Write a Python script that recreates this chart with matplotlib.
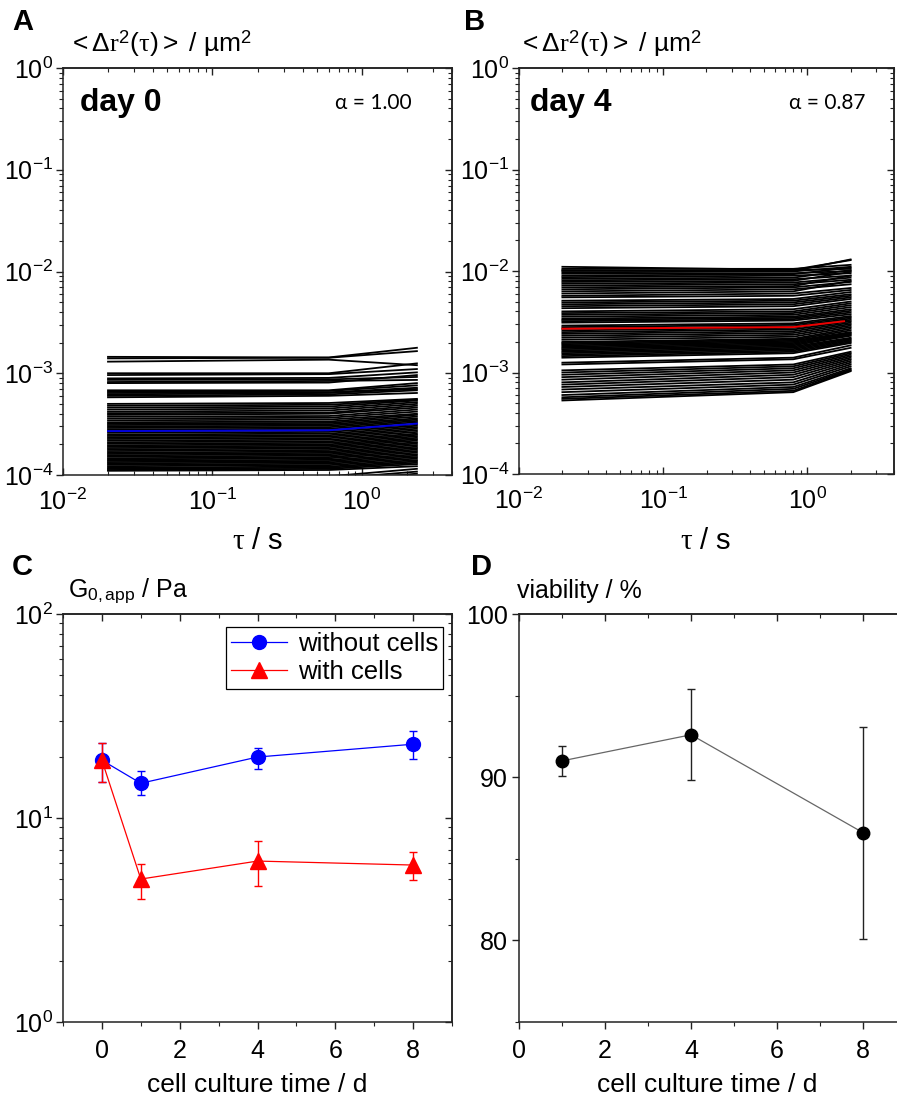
import matplotlib
matplotlib.use("Agg")
import matplotlib.pyplot as plt
from matplotlib.ticker import MultipleLocator, LogLocator

plt.rcParams['font.family'] = ['Liberation Sans', 'DejaVu Sans']
plt.rcParams['mathtext.fontset'] = 'custom'
plt.rcParams['mathtext.rm'] = 'Liberation Sans'
plt.rcParams['mathtext.it'] = 'Liberation Serif'
plt.rcParams['mathtext.bf'] = 'Liberation Sans:bold'
plt.rcParams['axes.unicode_minus'] = False

# ---- panel A: MSD curves, day 0 (values in 1e-4 um^2) ----
tau_day0 = [0.02, 0.6, 2.33]
msd0_start = [14.5, 14.0, 13.0, 10.0, 9.6, 8.9, 8.6, 8.2, 8.0, 6.8, 6.6, 6.4, 6.2, 6.0, 5.8,
              5.0, 4.8, 4.6, 4.4, 4.2, 4.05, 3.9, 3.75, 3.6, 3.45, 3.3, 3.2, 3.1, 3.0, 2.9,
              2.8, 2.7, 2.6, 2.5, 2.42, 2.34, 2.26, 2.18, 2.1, 2.03, 1.96, 1.9, 1.84, 1.78,
              1.72, 1.66, 1.61, 1.56, 1.51, 1.46, 1.42, 1.38, 1.34, 1.3, 1.26, 1.22, 1.18,
              1.15, 1.12, 1.1, 0.95, 0.9, 0.85]
msd0_mid = [14.3, 14.2, 13.6, 10.0, 9.8, 9.0, 8.7, 8.4, 8.1, 6.8, 6.7, 6.5, 6.4, 6.2, 6.0,
            5.1, 4.9, 4.7, 4.5, 4.3, 4.1, 4.0, 3.8, 3.65, 3.5, 3.35, 3.25, 3.15, 3.05, 2.95,
            2.85, 2.75, 2.65, 2.55, 2.46, 2.38, 2.3, 2.22, 2.14, 2.07, 2.0, 1.94, 1.88, 1.82,
            1.76, 1.7, 1.65, 1.6, 1.55, 1.5, 1.46, 1.41, 1.37, 1.33, 1.29, 1.25, 1.21,
            1.18, 1.15, 1.12, 0.97, 0.92, 0.88]
msd0_end = [17.8, 16.5, 12.0, 12.5, 11.0, 10.2, 9.2, 8.6, 9.6, 8.0, 7.6, 7.2, 7.0, 6.8, 6.4,
            5.6, 5.5, 5.4, 5.2, 5.0, 4.8, 4.6, 4.4, 4.2, 4.0, 3.9, 3.75, 3.6, 3.5, 3.4,
            3.3, 3.15, 3.05, 2.95, 2.85, 2.75, 2.65, 2.55, 2.48, 2.4, 2.32, 2.25, 2.18, 2.1,
            2.04, 1.97, 1.9, 1.84, 1.78, 1.72, 1.66, 1.6, 1.55, 1.5, 1.45, 1.4, 1.36,
            1.32, 1.28, 1.22, 1.15, 1.08, 1.03]
mean0 = [2.7, 2.75, 3.2]

# ---- panel B: MSD curves, day 4 (values in 1e-3 um^2) ----
tau_day4 = [0.02, 0.8, 2.0]
msd4_start = [11.0, 10.5, 10.2, 10.0, 9.7, 9.4, 9.0, 8.7, 8.4, 8.1, 7.8, 7.5, 7.2, 6.9, 6.6,
              6.3, 6.0, 5.7, 5.5, 5.1, 4.9, 4.7, 4.5, 4.3, 4.0, 3.85, 3.7, 3.55, 3.4, 3.3,
              3.2, 3.1, 2.9, 2.8, 2.7, 2.6, 2.5, 2.4, 2.3, 2.2, 2.1, 2.0, 1.95, 1.9, 1.85,
              1.8, 1.75, 1.7, 1.65, 1.6, 1.55, 1.5, 1.45, 1.4, 1.25, 1.2, 1.05, 1.0, 0.95,
              0.9, 0.85, 0.8, 0.76, 0.72, 0.68, 0.64, 0.6, 0.57, 0.55, 0.53]
msd4_mid = [10.3, 10.5, 10.0, 10.2, 9.9, 9.5, 9.3, 9.0, 8.6, 8.3, 8.0, 7.7, 7.4, 7.1, 6.9,
            6.6, 6.3, 6.0, 5.7, 5.3, 5.1, 4.9, 4.7, 4.5, 4.2, 4.0, 3.85, 3.7, 3.55, 3.45,
            3.35, 3.25, 3.05, 2.95, 2.85, 2.75, 2.65, 2.55, 2.45, 2.35, 2.25, 2.15, 2.1, 2.05,
            2.0, 1.95, 1.9, 1.85, 1.8, 1.75, 1.7, 1.65, 1.6, 1.55, 1.4, 1.35, 1.2, 1.15,
            1.1, 1.05, 1.0, 0.95, 0.9, 0.85, 0.8, 0.76, 0.72, 0.69, 0.66, 0.64]
msd4_end = [12.8, 11.5, 13.0, 10.5, 11.0, 10.0, 10.8, 9.5, 10.2, 9.0, 9.8, 8.6, 8.2, 9.0, 7.8,
            7.4, 8.0, 6.8, 6.5, 6.2, 5.9, 5.7, 5.5, 5.3, 5.0, 4.8, 4.6, 4.4, 4.2, 4.05,
            3.9, 3.75, 3.6, 3.5, 3.4, 3.3, 3.2, 3.1, 3.0, 2.9, 2.8, 2.7, 2.6, 2.5, 2.45,
            2.4, 2.35, 2.3, 2.2, 2.15, 2.1, 2.05, 2.0, 1.95, 1.85, 1.75, 1.6, 1.55, 1.5,
            1.45, 1.4, 1.35, 1.3, 1.25, 1.2, 1.15, 1.1, 1.07, 1.05, 1.03]
tau_mean4 = [0.02, 0.8, 1.8]
mean4 = [2.7, 2.8, 3.2]

# ---- panel C: apparent modulus ----
days_c = [0, 1, 4, 8]
g_without = [19.2, 14.8, 19.9, 23.0]
g_without_lo = [4.2, 1.8, 2.5, 3.5]
g_without_hi = [4.1, 2.2, 2.1, 3.7]
g_with = [19.2, 5.02, 6.15, 5.88]
g_with_lo = [4.2, 1.02, 1.51, 0.91]
g_with_hi = [4.1, 0.93, 1.55, 0.92]

# ---- panel D: viability ----
days_d = [1, 4, 8]
viability = [91.0, 92.6, 86.6]
viability_err = [0.9, 2.8, 6.5]

W, H = 897, 1100
TICK_FS = 18


def rect(l, r, t, b):
    return [l / W, 1 - b / H, (r - l) / W, (b - t) / H]


fig = plt.figure(figsize=(W / 100, H / 100), dpi=100)

spine_col = '#222222'


def style_axes(ax, xdir, ydir, right=True):
    for s in ax.spines.values():
        s.set_linewidth(1.1)
        s.set_color(spine_col)
    ax.spines['right'].set_visible(right)
    ax.tick_params(axis='x', which='both', direction=xdir, labelsize=TICK_FS, color=spine_col, pad=5)
    ax.tick_params(axis='y', which='both', direction=ydir, labelsize=TICK_FS, color=spine_col, pad=2)
    ax.tick_params(which='major', length=5, width=1)
    ax.tick_params(which='minor', length=3, width=0.8)
    top = ax.secondary_xaxis('top')
    top.tick_params(which='both', direction='in', labeltop=False, color=spine_col)
    top.tick_params(which='major', length=5, width=1)
    top.tick_params(which='minor', length=3, width=0.8)
    top.spines['top'].set_linewidth(1.1)
    top.spines['top'].set_color(spine_col)
    sec = [top]
    if right:
        rgt = ax.secondary_yaxis('right')
        rgt.tick_params(which='both', direction='in', labelright=False, color=spine_col)
        rgt.tick_params(which='major', length=5, width=1)
        rgt.tick_params(which='minor', length=3, width=0.8)
        rgt.spines['right'].set_linewidth(1.1)
        rgt.spines['right'].set_color(spine_col)
        sec.append(rgt)
    return sec


def msd_panel(ax, tau, starts, mids, ends, unit, mean_tau, mean_vals, mean_col, lw):
    for s, m, e in zip(starts, mids, ends):
        ax.plot(tau, [s * unit, m * unit, e * unit], color='black', lw=lw)
    ax.plot(mean_tau, [v * unit for v in mean_vals], color=mean_col, lw=1.4)
    ax.set_xscale('log')
    ax.set_yscale('log')
    ax.set_xlim(0.01, 4)
    ax.set_ylim(1e-4, 1)
    ax.xaxis.set_major_locator(LogLocator(base=10, numticks=10))
    ax.yaxis.set_major_locator(LogLocator(base=10, numticks=10))
    sec = style_axes(ax, 'in', 'out')
    sec[0].set_xticklabels([])
    sec[1].set_yticklabels([])
    ax.tick_params(axis='x', pad=10)


# panel A
axA = fig.add_axes(rect(63, 452, 68, 475))
msd_panel(axA, tau_day0, msd0_start, msd0_mid, msd0_end, 1e-4, tau_day0, mean0, '#0000dd', 1.3)
axA.text(0.044, 0.915, 'day 0', transform=axA.transAxes, fontsize=23, fontweight='bold',
         va='center', ha='left')
axA.text(0.70, 0.915, 'α = 1.00', transform=axA.transAxes, fontsize=15,
         family=['Lato', 'DejaVu Sans'], color='black', va='center', ha='left')

# panel B
axB = fig.add_axes(rect(519, 894, 68, 474))
msd_panel(axB, tau_day4, msd4_start, msd4_mid, msd4_end, 1e-3, tau_mean4, mean4, '#ee0000', 1.3)
axB.text(0.03, 0.915, 'day 4', transform=axB.transAxes, fontsize=23, fontweight='bold',
         va='center', ha='left')
axB.text(0.72, 0.915, 'α = 0.87', transform=axB.transAxes, fontsize=15,
         family=['Lato', 'DejaVu Sans'], color='black', va='center', ha='left')

# panel C
axC = fig.add_axes(rect(63, 452, 614, 1022))
axC.set_yscale('log')
axC.errorbar(days_c, g_without, yerr=[g_without_lo, g_without_hi], fmt='none',
             ecolor='#0000ff', elinewidth=1, capsize=3, capthick=1)
axC.errorbar(days_c, g_with, yerr=[g_with_lo, g_with_hi], fmt='none',
             ecolor='#ff0000', elinewidth=1, capsize=3, capthick=1)
axC.plot(days_c, g_without, color='#0000ff', lw=0.9, marker='o', ms=10,
         label='without cells')
axC.plot(days_c, g_with, color='#ff0000', lw=0.9, marker='^', ms=11,
         label='with cells')
axC.set_xlim(-1, 9)
axC.set_ylim(1, 100)
axC.xaxis.set_major_locator(MultipleLocator(2))
axC.xaxis.set_minor_locator(MultipleLocator(1))
secC = style_axes(axC, 'out', 'out')
secC[0].xaxis.set_major_locator(MultipleLocator(2))
secC[0].xaxis.set_minor_locator(MultipleLocator(1))
secC[0].set_xticklabels([])
secC[1].set_yticklabels([])
axC.tick_params(axis='x', pad=7)
leg = axC.legend(loc='upper right', bbox_to_anchor=(0.99, 0.98), fontsize=18.5,
                 frameon=True, fancybox=False, edgecolor='black', framealpha=1,
                 handlelength=2.2, borderpad=0.2, labelspacing=0.15, handletextpad=0.4,
                 borderaxespad=0.2)
leg.get_frame().set_linewidth(0.9)

# panel D
axD = fig.add_axes(rect(519, 897.5, 614, 1022))
axD.errorbar(days_d, viability, yerr=viability_err, fmt='none', ecolor='#222222',
             elinewidth=1, capsize=3, capthick=1)
axD.plot(days_d, viability, color='#666666', lw=0.9, marker='o', ms=9,
         markerfacecolor='black', markeredgecolor='black')
axD.set_xlim(0, 8.8)
axD.set_ylim(75, 100)
axD.xaxis.set_major_locator(MultipleLocator(2))
axD.xaxis.set_minor_locator(MultipleLocator(1))
axD.yaxis.set_major_locator(MultipleLocator(10))
axD.yaxis.set_minor_locator(MultipleLocator(5))
secD = style_axes(axD, 'out', 'out', right=False)
secD[0].xaxis.set_major_locator(MultipleLocator(2))
secD[0].xaxis.set_minor_locator(MultipleLocator(1))
secD[0].set_xticklabels([])
axD.tick_params(axis='y', pad=3)
axD.tick_params(axis='x', pad=7)

# axis titles
ylab_msd = r'$<\Delta r^2(\tau)>$ / µm$^2$'
fig.text(68 / W, 1 - 44 / H, ylab_msd, fontsize=19, va='center', ha='left')
fig.text(518 / W, 1 - 44 / H, ylab_msd, fontsize=19, va='center', ha='left')
fig.text(258 / W, 1 - 541 / H, r'$\tau$ / s', fontsize=21, va='center', ha='center')
fig.text(706 / W, 1 - 541 / H, r'$\tau$ / s', fontsize=21, va='center', ha='center')
fig.text(68 / W, 1 - 591 / H, r'G$_\mathrm{0,app}$ / Pa', fontsize=18, va='center', ha='left')
fig.text(517 / W, 1 - 591 / H, 'viability / %', fontsize=18, va='center', ha='left')
fig.text(257 / W, 1 - 1085 / H, 'cell culture time / d', fontsize=19, va='center', ha='center')
fig.text(707 / W, 1 - 1085 / H, 'cell culture time / d', fontsize=19, va='center', ha='center')

# panel letters
for letter, x, y in [('A', 12, 22), ('B', 464, 22), ('C', 12, 567), ('D', 471, 567)]:
    fig.text(x / W, 1 - y / H, letter, fontsize=21, fontweight='bold', va='center', ha='left')

fig.savefig('out.png', dpi=100)
